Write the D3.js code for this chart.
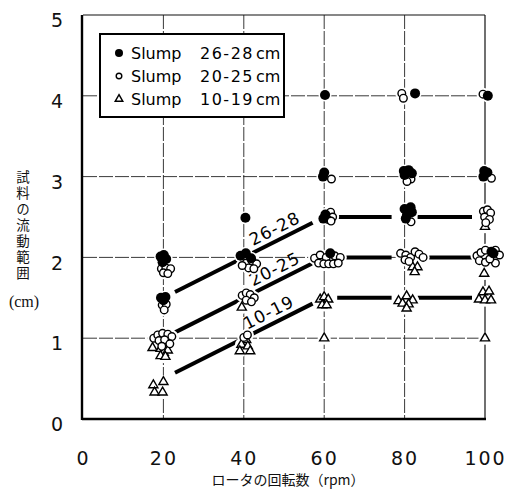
<!DOCTYPE html>
<html><head><meta charset="utf-8">
<script src="https://cdn.jsdelivr.net/npm/d3@7"></script>
<style>body{margin:0;background:#fff}svg{display:block}</style>
</head><body>
<svg id="c" width="506" height="490"></svg>
<script>
const xTicks = [0, 20, 40, 60, 80, 100];
const yTicks = [0, 1, 2, 3, 4, 5];
const seriesNames = ["Slump", "Slump", "Slump"];
const seriesRanges = ["26-28", "20-25", "10-19"];
const lineLabels = ["26-28", "20-25", "10-19"];
const xTitle = "ロータの回転数（rpm）";
const yTitle = "試料の流動範囲";
const yUnit = "(cm)";

// Slump 26-28 cm (filled circles): [rpm, flow range cm]
const filled = [
  [19.3,2.01],[20.1,2.03],[20.7,1.98],[19.8,1.94],
  [19.4,1.5],[20.5,1.51],[20.0,1.47],
  [40.4,2.49],
  [39.2,2.02],[40.5,2.05],[41.8,1.99],
  [60.2,4.01],
  [60.0,3.05],[59.7,3.0],
  [60.3,2.53],[59.8,2.48],
  [61.5,2.05],
  [82.6,4.03],
  [79.8,3.07],[81.0,3.08],[81.8,3.04],[80.0,3.02],
  [80.0,2.6],[81.5,2.62],[80.6,2.53],[81.8,2.56],[80.3,2.48],
  [100.7,4.0],
  [99.8,3.07],[100.6,3.05],[99.6,3.0],
  [101.6,2.07],[102.1,2.05]
];
// Slump 20-25 cm (open circles)
const open = [
  [19.5,1.86],[20.6,1.87],[21.8,1.86],[20.0,1.81],[21.1,1.8],
  [19.7,1.41],[20.7,1.42],[20.2,1.35],
  [17.6,1.0],[18.6,1.04],[19.8,1.06],[21.1,1.05],[22.1,1.02],[18.9,0.97],[20.3,0.98],[21.6,0.93],[19.6,0.9],
  [40.6,1.93],[42.0,1.96],[43.2,1.92],[41.2,1.87],[42.5,1.86],[39.6,1.9],
  [39.6,1.53],[40.6,1.56],[41.6,1.54],[42.6,1.5],[40.6,1.47],[41.9,1.45],
  [40.0,1.01],[40.9,1.04],
  [61.8,2.97],
  [61.6,2.56],[62.1,2.5],[60.9,2.47],[61.7,2.45],
  [57.6,1.99],[59.0,2.03],[60.5,2.0],[62.6,2.02],[64.0,2.0],[58.6,1.93],[59.9,1.92],[61.1,1.92],[62.3,1.92],[63.5,1.93],
  [79.3,4.03],[79.7,3.97],
  [81.6,2.97],[80.6,2.94],
  [81.6,2.44],
  [79.0,2.05],[80.3,2.03],[81.5,2.0],[82.6,2.07],[83.6,2.04],[84.6,2.0],[80.1,1.97],[81.1,1.95],
  [99.5,4.02],
  [101.6,2.98],
  [99.6,2.57],[100.6,2.59],[101.4,2.55],[99.9,2.5],[101.1,2.47],[100.2,2.43],
  [98.0,2.02],[99.0,2.06],[100.1,2.09],[102.6,2.09],[103.6,2.03],[98.6,1.96],[100.1,1.94],[102.6,1.93],[101.2,1.98]
];
// Slump 10-19 cm (triangles)
const tri = [
  [17.3,0.88],[19.3,0.87],[20.1,0.82],[21.1,0.85],[19.3,0.78],[20.5,0.77],
  [17.5,0.42],[20.0,0.46],[17.8,0.33],[19.8,0.33],
  [39.5,1.38],
  [40.6,0.98],[39.4,0.92],[41.0,0.9],[39.0,0.84],[41.6,0.84],
  [59.0,1.48],[60.0,1.51],[61.0,1.48],[59.5,1.41],[60.6,1.41],
  [60.0,1.0],
  [82.0,1.88],[83.2,1.88],[82.5,1.82],
  [78.5,1.46],[80.5,1.52],[82.0,1.47],[79.5,1.43],[81.0,1.42],[80.5,1.37],
  [100.0,2.38],[99.8,1.8],
  [99.5,1.57],[101.0,1.58],[98.5,1.48],[100.0,1.47],[101.5,1.47],
  [100.0,1.0]
];
// trend lines (rpm, cm)
const line2628 = [[20,1.5],[60,2.5],[80,2.5],[100,2.5]];
const line2025 = [[20,1.0],[60,2.0],[80,2.0],[100,2.0]];
const line1019 = [[20,0.5],[60,1.5],[80,1.5],[100,1.5]];
const labelAt = [49, 49, 47.5];

const svg = d3.select("#c");
const x = d3.scaleLinear().domain([0,100]).range([83,485]);
const y = d3.scaleLinear().domain([0,5]).range([419,15]);

// grid
const g = svg.append("g");
g.selectAll(".vg").data(xTicks.filter(d=>d>0&&d<100)).join("line")
  .attr("x1",d=>x(d)).attr("x2",d=>x(d)).attr("y1",y(5)).attr("y2",y(0))
  .attr("stroke","#222").attr("stroke-width",0.9).attr("stroke-dasharray","14,2");
g.selectAll(".hg").data(yTicks.filter(d=>d>0&&d<5)).join("line")
  .attr("x1",x(0)).attr("x2",x(100)).attr("y1",d=>y(d)).attr("y2",d=>y(d))
  .attr("stroke","#222").attr("stroke-width",0.9).attr("stroke-dasharray","14,2");

// frame
svg.append("line").attr("x1",x(0)).attr("x2",x(100)).attr("y1",y(5)).attr("y2",y(5)).attr("stroke","#111").attr("stroke-width",1.2);
svg.append("line").attr("x1",x(100)).attr("x2",x(100)).attr("y1",y(5)).attr("y2",y(0)).attr("stroke","#111").attr("stroke-width",1.2);
svg.append("line").attr("x1",x(0)-1).attr("x2",x(100)+1).attr("y1",y(0)).attr("y2",y(0)).attr("stroke","#000").attr("stroke-width",2.4);
svg.append("line").attr("x1",x(0)-1).attr("x2",x(0)-1).attr("y1",y(5)).attr("y2",y(0)+1).attr("stroke","#000").attr("stroke-width",2.4);

// axes (labels only)
const xa = svg.append("g").attr("transform",`translate(0,${y(0)})`)
  .call(d3.axisBottom(x).tickValues(xTicks).tickSize(0).tickPadding(33).tickFormat(d3.format("d")));
xa.select(".domain").remove();
xa.selectAll("text").attr("font-family","DejaVu Sans").attr("font-size",19).attr("letter-spacing","2px").attr("fill","#111");
const ya = svg.append("g").attr("transform",`translate(63,0)`)
  .call(d3.axisLeft(y).tickValues(yTicks).tickSize(0).tickPadding(0).tickFormat(d3.format("d")));
ya.select(".domain").remove();
ya.selectAll("text").attr("font-family","DejaVu Sans").attr("font-size",19).attr("fill","#111").attr("dy","0.62em");

// trend segments (shortened near clusters)
function segs(pts){
  const out=[];
  for(let i=0;i<pts.length-1;i++){
    const a=[x(pts[i][0]),y(pts[i][1])], b=[x(pts[i+1][0]),y(pts[i+1][1])];
    const dx=b[0]-a[0], dy=b[1]-a[1], L=Math.hypot(dx,dy), s=13/L;
    out.push([a[0]+dx*s,a[1]+dy*s,b[0]-dx*s,b[1]-dy*s]);
  }
  return out;
}
[line2628,line2025,line1019].forEach((ln,i)=>{
  svg.append("g").selectAll("line").data(segs(ln)).join("line")
    .attr("x1",d=>d[0]).attr("y1",d=>d[1]).attr("x2",d=>d[2]).attr("y2",d=>d[3])
    .attr("stroke","#000").attr("stroke-width",4);
  const a=ln[0], b=ln[1];
  const r=labelAt[i];
  const v=a[1]+(b[1]-a[1])*(r-a[0])/(b[0]-a[0]);
  const ang=Math.atan2(y(b[1])-y(a[1]), x(b[0])-x(a[0]))*180/Math.PI;
  svg.append("text").attr("transform",`translate(${x(r)},${y(v)}) rotate(${ang})`)
    .attr("y",-6).attr("text-anchor","middle").attr("font-family","DejaVu Sans")
    .attr("font-size",17).attr("letter-spacing","1px").attr("fill","#000").text(lineLabels[i]);
});

// markers
const triPath = d3.symbol().type(d3.symbolTriangle).size(36);
function halo(data){
  svg.append("g").selectAll("circle").data(data).join("circle")
    .attr("cx",d=>x(d[0])).attr("cy",d=>y(d[1])).attr("r",6.5).attr("fill","#fff");
}
halo(filled.concat(open).concat(tri));
svg.append("g").selectAll("path").data(tri).join("path")
  .attr("d",triPath).attr("transform",d=>`translate(${x(d[0])},${y(d[1])})`)
  .attr("fill","#fff").attr("stroke","#000").attr("stroke-width",1.4);
svg.append("g").selectAll("circle").data(open).join("circle")
  .attr("cx",d=>x(d[0])).attr("cy",d=>y(d[1])).attr("r",3.8)
  .attr("fill","#fff").attr("stroke","#000").attr("stroke-width",1.4);
svg.append("g").selectAll("circle").data(filled).join("circle")
  .attr("cx",d=>x(d[0])).attr("cy",d=>y(d[1])).attr("r",5).attr("fill","#000");

// legend
const lg = svg.append("g");
lg.append("rect").attr("x",100).attr("y",34).attr("width",184).attr("height",83)
  .attr("fill","#fff").attr("stroke","#000").attr("stroke-width",2);
const rows=[53,76,99];
lg.append("circle").attr("cx",119).attr("cy",rows[0]).attr("r",4).attr("fill","#000");
lg.append("circle").attr("cx",119).attr("cy",rows[1]).attr("r",2.8).attr("fill","#fff").attr("stroke","#000").attr("stroke-width",1.4);
lg.append("path").attr("d",d3.symbol().type(d3.symbolTriangle).size(24)).attr("transform",`translate(119,${rows[2]})`)
  .attr("fill","#fff").attr("stroke","#000").attr("stroke-width",1.5);
rows.forEach((ry,i)=>{
  const t = (tx,s)=>lg.append("text").attr("x",tx).attr("y",ry+6).attr("font-family","DejaVu Sans")
    .attr("font-size",16).attr("fill","#000").text(s);
  t(131,seriesNames[i]);
  t(200,seriesRanges[i]).attr("letter-spacing","1.5px");
  t(256,"cm");
});

// titles
svg.append("text").attr("x",288).attr("y",485).attr("text-anchor","middle")
  .attr("font-family","Noto Sans CJK JP").attr("font-size",14).attr("fill","#111").text(xTitle);
svg.append("text").attr("x",23).attr("y",170)
  .style("writing-mode","vertical-rl").attr("letter-spacing","2.5px")
  .attr("font-family","Noto Sans CJK JP").attr("font-size",13.5).attr("fill","#111").text(yTitle);
svg.append("text").attr("x",24).attr("y",307).attr("text-anchor","middle")
  .attr("font-family","Liberation Serif").attr("font-size",16).attr("fill","#111").text(yUnit);
</script>
</body></html>
